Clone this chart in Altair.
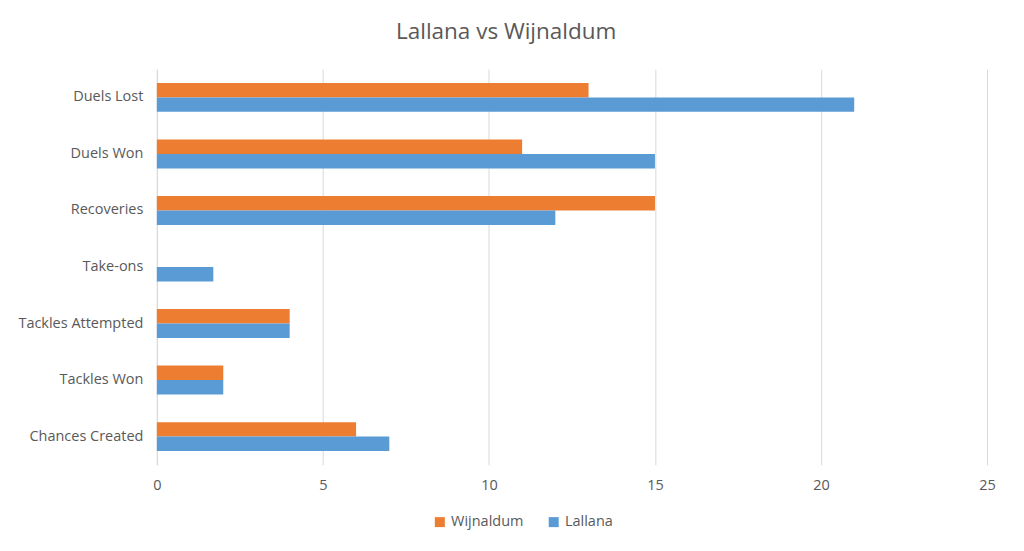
import altair as alt
import pandas as pd

categories = ["Duels Lost", "Duels Won", "Recoveries", "Take-ons",
              "Tackles Attempted", "Tackles Won", "Chances Created"]
wijnaldum = [13, 11, 15, 0, 4, 2, 6]
lallana = [21, 15, 12, 1.7, 4, 2, 7]
series = ["Wijnaldum", "Lallana"]
colors = ["#ED7D31", "#5B9BD5"]

rows = []
for c, w, l in zip(categories, wijnaldum, lallana):
    rows.append({"Category": c, "Player": "Wijnaldum", "Value": w})
    rows.append({"Category": c, "Player": "Lallana", "Value": l})
df = pd.DataFrame(rows)

font = "Open Sans"
gray = "#595959"

chart = alt.Chart(df).mark_bar().encode(
    y=alt.Y("Category:N", sort=categories,
            scale=alt.Scale(paddingInner=0.49, paddingOuter=0.245),
            axis=alt.Axis(title=None, ticks=False, labelPadding=14,
                          labelFontSize=14.5, labelColor=gray, labelFont=font,
                          domainColor="#d9d9d9", grid=False,
                          minExtent=140, maxExtent=140)),
    x=alt.X("Value:Q", scale=alt.Scale(domain=[0, 25], nice=False),
            axis=alt.Axis(title=None, values=[0, 5, 10, 15, 20, 25],
                          ticks=False, domain=False, labelPadding=14,
                          labelFlush=False,
                          labelFontSize=14.5, labelColor=gray, labelFont=font,
                          gridColor="#d9d9d9")),
    yOffset=alt.YOffset("Player:N", sort=series),
    color=alt.Color("Player:N", scale=alt.Scale(domain=series, range=colors),
                    legend=alt.Legend(title=None, orient="none",
                                      legendX=276, legendY=446,
                                      direction="horizontal", symbolType="square",
                                      symbolSize=100, labelFontSize=14.5,
                                      labelColor=gray, labelFont=font,
                                      columnPadding=22, labelOffset=4,
                                      symbolStrokeWidth=0)),
).properties(
    width=831,
    height=396,
    padding={"left": 9, "top": 12, "right": 20, "bottom": 5},
    title=alt.Title("Lallana vs Wijnaldum", fontSize=22.5, font=font,
                    color=gray, fontWeight="normal", offset=26,
                    anchor="middle", frame="bounds"),
).configure(background="white").configure_view(stroke=None)

chart.save("out.html", embed_options={"renderer": "svg", "actions": False})
